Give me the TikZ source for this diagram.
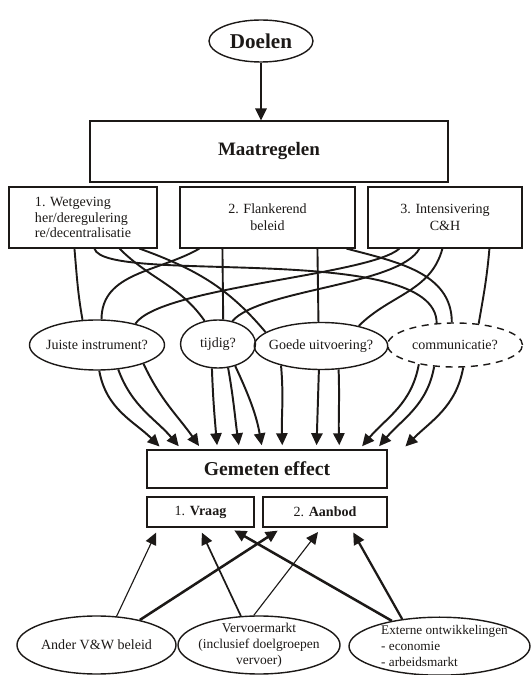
\documentclass[tikz,border=0pt]{standalone}
\usepackage{fontspec}
\setmainfont{Liberation Serif}
\usetikzlibrary{arrows.meta, shapes.geometric}
\definecolor{inkdark}{HTML}{1C1917}

\begin{document}
\begin{tikzpicture}[inkdark, font=\fontsize{10}{12}\selectfont,
    box/.style={draw, rectangle, line width=.8pt, inner sep=0pt, align=center},
    oval/.style={draw, ellipse, line width=1pt, inner sep=-3.5pt, align=center},
    link/.style={line width=1.35pt},
    effarrow/.style={line width=1.4pt, -{Triangle[length=8.5pt,width=8pt]}, shorten >=3pt},
    lowarrow/.style={-{Triangle[length=8.5pt,width=8pt]}, shorten >=4pt}]
  \useasboundingbox (0,0) rectangle (13.275,16.875);
  % top
  \node[oval, minimum width=2.6cm, minimum height=1.05cm,
        font=\fontsize{15}{17}\selectfont\bfseries] (doel) at (6.525,15.85) {Doelen};
  \node[box, minimum width=8.95cm, minimum height=1.525cm,
        font=\fontsize{13.5}{15}\selectfont\bfseries] (maat) at (6.725,13.0875) {Maatregelen};
  \draw[line width=1.5pt, -{Triangle[length=8.5pt,width=8pt]}] (doel.south) -- (doel.south |- maat.north);
  % measures
  \node[box, minimum width=3.7cm, minimum height=1.525cm, align=left,
        font=\fontsize{10}{10.8}\selectfont] (wet) at (2.075,11.4375)
        {1. Wetgeving\\her/deregulering\\re/decentralisatie};
  \node[box, minimum width=4.375cm, minimum height=1.525cm] (flank) at (6.6875,11.4375)
        {2. Flankerend\\beleid};
  \node[box, minimum width=3.85cm, minimum height=1.525cm] (inten) at (11.125,11.4375)
        {3. Intensivering\\C\&H};
  % questions
  \node[oval, minimum width=3.375cm, minimum height=1.25cm] (juist) at (2.425,8.25) {Juiste instrument?};
  \node[oval, minimum width=1.875cm, minimum height=1.2cm] (tijd) at (5.45,8.275) {tijdig?};
  \node[oval, minimum width=3.325cm, minimum height=1.175cm] (goed) at (8.025,8.225) {Goede uitvoering?};
  \node[oval, dash pattern=on 5pt off 4pt, minimum width=3.375cm, minimum height=1.1cm] (comm) at (11.375,8.25) {communicatie?};
  % measures -> questions
  \draw[link] ([xshift=1.65cm]wet.south west) to[out=-85,in=100] (juist.120);
  \draw[link] ([xshift=2.15cm]wet.south west) .. controls +(0.25,-0.925) and +(0,2.075) .. (comm.130);
  \draw[link] ([xshift=2.775cm]wet.south west) to[out=-45,in=125] (tijd.120);
  \draw[link] ([xshift=3.275cm]wet.south west) to[out=-20,in=130] (goed.166);
  \draw[link] ([xshift=0.5cm]flank.south west) to[out=-150,in=90] (juist.80);
  \draw[link] ([xshift=1.075cm]flank.south west) -- (tijd.78);
  \draw[link] ([xshift=3.45cm]flank.south west) -- (goed.96);
  \draw[link] ([xshift=4.175cm]flank.south west) to[out=-15,in=90] (comm.98);
  \draw[link] ([xshift=0.8cm]inten.south west) .. controls +(-0.75,-0.675) and +(0.625,0.925) .. (juist.29);
  \draw[link] ([xshift=1.3cm]inten.south west) .. controls +(-0.5,-0.925) and +(0.7,0.8) .. (tijd.58);
  \draw[link] ([xshift=1.875cm]inten.south west) to[out=-105,in=45] (goed.28);
  \draw[link] ([xshift=3.05cm]inten.south west) to[out=-95,in=80] (comm.42);
  % effect
  \node[box, minimum width=6cm, minimum height=.95cm,
        font=\fontsize{14}{16}\selectfont\bfseries] (eff) at (6.675,5.15) {Gemeten effect};
  \node[box, minimum width=2.675cm, minimum height=.75cm] (vraag) at (5.0125,4.075) {1. \textbf{Vraag}};
  \node[box, minimum width=3.1cm, minimum height=.75cm] (aanbod) at (8.125,4.075) {2. \textbf{Aanbod}};
  % questions -> effect
  \draw[effarrow] (juist.275) to[out=-80,in=135] ([xshift=0.4cm]eff.north west);
  \draw[effarrow] (juist.311) to[out=-70,in=130] ([xshift=0.875cm]eff.north west);
  \draw[effarrow] (juist.338) to[out=-65,in=125] ([xshift=1.375cm]eff.north west);
  \draw[effarrow] (tijd.256) to[out=-88,in=95] ([xshift=1.775cm]eff.north west);
  \draw[effarrow] (tijd.293) to[out=-80,in=98] ([xshift=2.325cm]eff.north west);
  \draw[effarrow] (tijd.308) to[out=-65,in=100] ([xshift=2.9cm]eff.north west);
  \draw[effarrow] (goed.206) to[out=-85,in=92] ([xshift=3.4cm]eff.north west);
  \draw[effarrow] (goed.265) -- ([xshift=4.25cm]eff.north west);
  \draw[effarrow] (goed.307) to[out=-88,in=92] ([xshift=4.825cm]eff.north west);
  \draw[effarrow] (comm.208) to[out=-100,in=50] ([xshift=5.325cm]eff.north west);
  \draw[effarrow] (comm.226) to[out=-100,in=50] ([xshift=5.75cm]eff.north west);
  \draw[effarrow] (comm.290) to[out=-100,in=45] ([xshift=6.4cm]eff.north west);
  % outside influences
  \node[oval, minimum width=3.975cm, minimum height=1.45cm] (ander) at (2.4125,0.75) {Ander V\&W beleid};
  \node[oval, minimum width=4.05cm, minimum height=1.45cm, font=\fontsize{9.6}{11.3}\selectfont] (vervoer) at (6.475,0.75)
        {Vervoermarkt\\(inclusief doelgroepen\\vervoer)};
  \node[oval, minimum width=4.525cm, minimum height=1.45cm, align=left, inner xsep=-.3cm,
        font=\fontsize{9.4}{11.3}\selectfont] (extern) at (10.9875,0.72)
        {\hspace*{.25cm}Externe ontwikkelingen\\\hspace*{.25cm}- economie\\\hspace*{.25cm}- arbeidsmarkt};
  \draw[lowarrow, line width=.8pt] (ander.55) -- ([xshift=0.3cm]vraag.south west);
  \draw[lowarrow, line width=1.8pt] (ander.30) -- ([xshift=0.5cm]aanbod.south west);
  \draw[lowarrow, line width=1.2pt] (vervoer.122) -- ([xshift=1.325cm]vraag.south west);
  \draw[lowarrow, line width=.8pt] (vervoer.100) -- ([xshift=1.475cm]aanbod.south west);
  \draw[lowarrow, line width=1.8pt] (extern.152) -- ([xshift=2.075cm]vraag.south west);
  \draw[lowarrow, line width=1.6pt] (extern.144) -- ([xshift=2.2cm]aanbod.south west);
\end{tikzpicture}
\end{document}
